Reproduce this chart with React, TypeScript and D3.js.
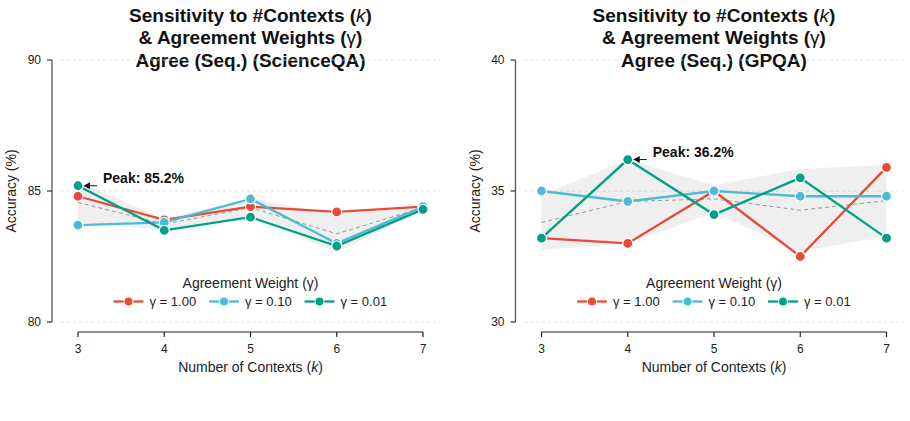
import React from "react";
import * as d3 from "d3";

const kValues = [3, 4, 5, 6, 7];
const gammaLabels = ["γ = 1.00", "γ = 0.10", "γ = 0.01"];
const gammaColors = ["#E64B35", "#4DBBD5", "#00A087"];

// ScienceQA accuracies (%)
const sciG100 = [84.8, 83.9, 84.4, 84.2, 84.4];
const sciG010 = [83.7, 83.8, 84.7, 83.0, 84.4];
const sciG001 = [85.2, 83.5, 84.0, 82.9, 84.3];
const sciTicks = [80, 85, 90];

// GPQA accuracies (%)
const gpqaG100 = [33.2, 33.0, 35.0, 32.5, 35.9];
const gpqaG010 = [35.0, 34.6, 35.0, 34.8, 34.8];
const gpqaG001 = [33.2, 36.2, 34.1, 35.5, 33.2];
const gpqaTicks = [30, 35, 40];

const FONT = "'Liberation Sans', Arial, sans-serif";

function Panel({ left, name, series, ticks }) {
  const x = d3.scaleLinear().domain([3, 7]).range([left + 26, left + 371]);
  const y = d3.scaleLinear().domain([ticks[0], ticks[2]]).range([322, 60]);
  const cx = (x(3) + x(7)) / 2;
  const spineX = left;

  // mean +/- sample std across gamma settings
  const stats = kValues.map((k, i) => {
    const vals = series.map(s => s[i]);
    const m = d3.mean(vals);
    const sd = d3.deviation(vals);
    return { k, m, lo: m - sd, hi: m + sd };
  });

  const band = d3.area().x(d => x(d.k)).y0(d => y(d.lo)).y1(d => y(d.hi));
  const meanLine = d3.line().x(d => x(d.k)).y(d => y(d.m));
  const line = d3.line().x((d, i) => x(kValues[i])).y(d => y(d));

  let peak = { v: -Infinity, i: 0 };
  series.forEach(s => s.forEach((v, i) => { if (v > peak.v) peak = { v, i }; }));
  const px = x(kValues[peak.i]), py = y(peak.v);

  return (
    <g fontFamily={FONT}>
      <text textAnchor="middle" fontWeight="bold" fontSize={19} fill="#111">
        <tspan x={cx} y={21.5}>Sensitivity to #Contexts (<tspan fontStyle="italic" fontWeight="normal">k</tspan>)</tspan>
        <tspan x={cx} y={44}>&amp; Agreement Weights (<tspan fontWeight="normal">γ</tspan>)</tspan>
        <tspan x={cx} y={66.5}>Agree (Seq.) ({name})</tspan>
      </text>

      {ticks.map(t => (
        <line key={t} x1={x(2.8)} x2={x(7.2)} y1={y(t)} y2={y(t)}
          stroke="#d8d8d8" strokeWidth={0.8} strokeDasharray="3,3" />
      ))}

      <path d={band(stats)} fill="#808080" fillOpacity={0.13} />
      <path d={meanLine(stats)} fill="none" stroke="#999" strokeWidth={1} strokeDasharray="4,3" />

      {series.map((s, si) => (
        <g key={si}>
          <path d={line(s)} fill="none" stroke={gammaColors[si]} strokeWidth={2.3} />
          {s.map((v, i) => (
            <circle key={i} cx={x(kValues[i])} cy={y(v)} r={5} fill={gammaColors[si]}
              stroke="#fff" strokeWidth={1.2} />
          ))}
        </g>
      ))}

      {/* peak annotation */}
      <line x1={px + 19} y1={py} x2={px + 9} y2={py} stroke="#111" strokeWidth={1} />
      <path d={`M${px + 5.5},${py} L${px + 12},${py - 3.5} L${px + 12},${py + 3.5} Z`} fill="#111" />
      <text x={px + 25} y={py - 3} fontSize={14} fontWeight="bold" fill="#111">
        {`Peak: ${peak.v.toFixed(1)}%`}
      </text>

      {/* y axis */}
      <line x1={spineX} x2={spineX} y1={y(ticks[0])} y2={y(ticks[2])} stroke="#555" strokeWidth={1.3} />
      {ticks.map(t => (
        <g key={t}>
          <line x1={spineX - 5} x2={spineX} y1={y(t)} y2={y(t)} stroke="#333" strokeWidth={1.2} />
          <text x={spineX - 11} y={y(t) + 4} textAnchor="end" fontSize={12} fill="#222">{t}</text>
        </g>
      ))}
      <text transform={`translate(${left - 36},${191}) rotate(-90)`} textAnchor="middle" fontSize={14} fill="#222">
        Accuracy (%)
      </text>

      {/* x axis */}
      <line x1={x(3)} x2={x(7)} y1={332} y2={332} stroke="#222" strokeWidth={1.2} />
      {kValues.map(k => (
        <g key={k}>
          <line x1={x(k)} x2={x(k)} y1={332} y2={337} stroke="#222" strokeWidth={1.2} />
          <text x={x(k)} y={353} textAnchor="middle" fontSize={12} fill="#222">{k}</text>
        </g>
      ))}
      <text x={cx} y={372} textAnchor="middle" fontSize={14} fill="#222">
        Number of Contexts (<tspan fontStyle="italic">k</tspan>)
      </text>

      {/* legend */}
      <text x={cx} y={288} textAnchor="middle" fontSize={14} fill="#222">Agreement Weight (γ)</text>
      {gammaLabels.map((lab, i) => {
        const lx = cx - 137 + i * 95.5;
        return (
          <g key={lab}>
            <line x1={lx} x2={lx + 30} y1={301.5} y2={301.5} stroke={gammaColors[i]} strokeWidth={2.3} />
            <circle cx={lx + 15} cy={301.5} r={4.5} fill={gammaColors[i]} stroke="#fff" strokeWidth={1} />
            <text x={lx + 36} y={306} fontSize={13} fill="#222">{lab}</text>
          </g>
        );
      })}
    </g>
  );
}

export default function App() {
  return (
    <div style={{ position: "absolute", left: 0, top: 0 }}>
      <svg width={910} height={421} style={{ display: "block", background: "#fff" }}>
        <Panel left={52} name="ScienceQA" series={[sciG100, sciG010, sciG001]} ticks={sciTicks} />
        <Panel left={515.5} name="GPQA" series={[gpqaG100, gpqaG010, gpqaG001]} ticks={gpqaTicks} />
      </svg>
    </div>
  );
}
